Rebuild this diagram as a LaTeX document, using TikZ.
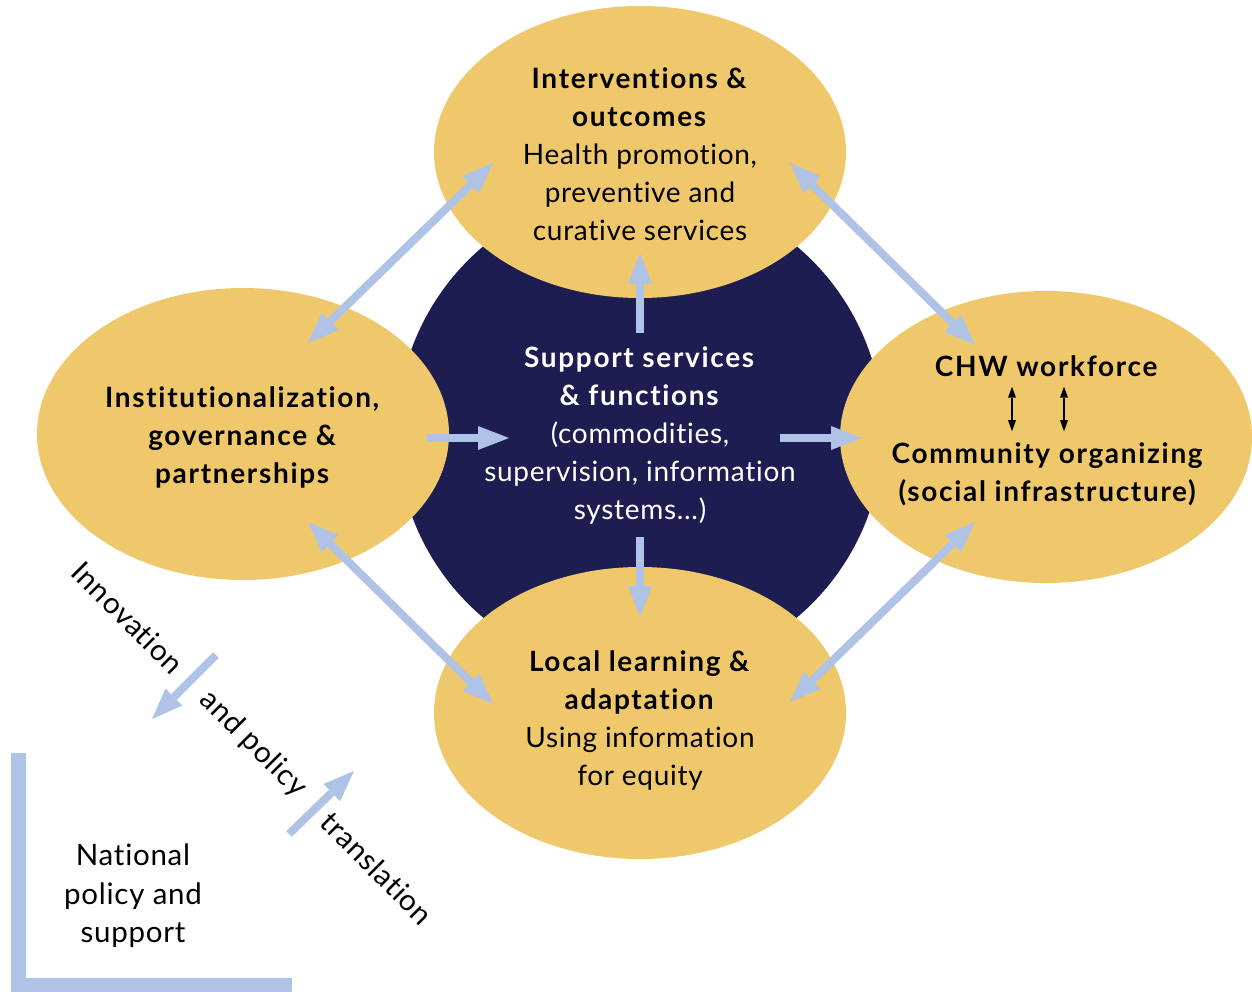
\documentclass[tikz,border=0pt]{standalone}
\usepackage{fontspec}
\setmainfont{Lato}[Ligatures=NoCommon, LetterSpace=2.5, BoldFeatures={LetterSpace=6}]
\usetikzlibrary{arrows.meta,shapes.geometric}
\definecolor{gold}{HTML}{F0C86C}
\definecolor{navy}{HTML}{1E1D52}
\definecolor{paleblue}{HTML}{AEC3E5}

\begin{document}
\begin{tikzpicture}[x=1pt,y=-1pt,
  blob/.style={ellipse, fill=gold, minimum width=412pt, minimum height=292pt, inner sep=0pt},
  hubdisc/.style={circle, fill=navy, minimum size=486pt, inner sep=0pt},
  txt/.style={align=center, inner sep=0pt, font=\fontsize{28}{38}\selectfont},
  sidetxt/.style={align=center, inner sep=0pt, font=\fontsize{29.5}{38.5}\selectfont},
  bigtip/.tip={Triangle[length=31pt,width=24pt,line width=0pt]},
  flow/.style={draw=paleblue, line width=8pt, -bigtip},
  twoway/.style={draw=paleblue, line width=8pt, bigtip-bigtip},
  smalltwoway/.style={draw=black, line width=1.8pt, shorten <=10pt, shorten >=11pt,
    {Triangle[length=11pt,width=8pt,line width=0pt]}-{Triangle[length=11pt,width=8pt,line width=0pt]}},
  bracket/.style={draw=paleblue, line width=15pt, line join=miter}
]
\useasboundingbox (0,0) rectangle (1252,992);

% central support circle and the four surrounding domains
\node[hubdisc] (hub) at (640,432) {};
\node[blob] (top)    at (640,152) {};
\node[blob] (left)   at (243,434) {};
\node[blob] (right)  at (1046,437) {};
\node[blob] (bottom) at (640,713) {};

% texts
\node[txt] (toptext) at (640,154)
  {\textbf{Interventions \&}\\\textbf{outcomes}\\Health promotion,\\preventive and\\curative services};
\node[txt, text=white] (hubtext) at (640,436)
  {\textbf{Support services}\\\textbf{\& functions}\\(commodities,\\supervision, information\\systems...)};
\node[txt] (lefttext) at (243,437)
  {\textbf{Institutionalization,}\\\textbf{governance \&}\\\textbf{partnerships}};
\node[txt] (chw) at (1047,366) {\textbf{CHW workforce}};
\node[txt] (community) at (1048,474)
  {\textbf{Community organizing}\\\textbf{(social infrastructure)}};
\node[txt] (bottomtext) at (640,720)
  {\textbf{Local learning \&}\\\textbf{adaptation}\\Using information\\for equity};
\node[sidetxt] (national) at (133,896) {National\\policy and\\support};

% diagonal label
\node[sidetxt, rotate=-45] (innov) at (128,618) {Innovation};
\node[sidetxt, rotate=-45] (andpol) at (253,744) {and policy};
\node[sidetxt, rotate=-45] (transl) at (377,868) {translation};

% connector end points
\coordinate (hubN) at (640,333);  \coordinate (topS) at (640,253);
\coordinate (hubS) at (640,537);  \coordinate (botN) at (640,617);
\coordinate (leftE) at (427,438); \coordinate (hubW) at (509,438);
\coordinate (hubE) at (780,438);  \coordinate (rightW) at (862,438);
\coordinate (leftNE) at (308,343); \coordinate (topSW) at (493,163);
\coordinate (topSE) at (790,163);  \coordinate (rightNW) at (975,345);
\coordinate (leftSE) at (308,522); \coordinate (botNW) at (493,704);
\coordinate (botNE) at (790,702);  \coordinate (rightSW) at (975,522);
\coordinate (downA) at (216,655);  \coordinate (downB) at (152,719);
\coordinate (upA) at (289,834);    \coordinate (upB) at (354,771);

% flows out of the support circle
\draw[flow] (hubN) -- (topS);
\draw[flow] (hubS) -- (botN);
\draw[flow] (leftE) -- (hubW);
\draw[flow] (hubE) -- (rightW);

% two-way links between domains
\draw[twoway] (leftNE) -- (topSW);
\draw[twoway] (topSE) -- (rightNW);
\draw[twoway] (leftSE) -- (botNW);
\draw[twoway] (botNE) -- (rightSW);

% CHW workforce <-> community organizing
\draw[smalltwoway] (chw.south -| 1012,0) -- (community.north -| 1012,0);
\draw[smalltwoway] (chw.south -| 1064,0) -- (community.north -| 1064,0);

% innovation and policy translation flows
\draw[flow] (downA) -- (downB);
\draw[flow] (upA) -- (upB);

% national level bracket
\draw[bracket] (18.5,753) -- (18.5,985.5) -- (292,985.5);
\end{tikzpicture}
\end{document}
